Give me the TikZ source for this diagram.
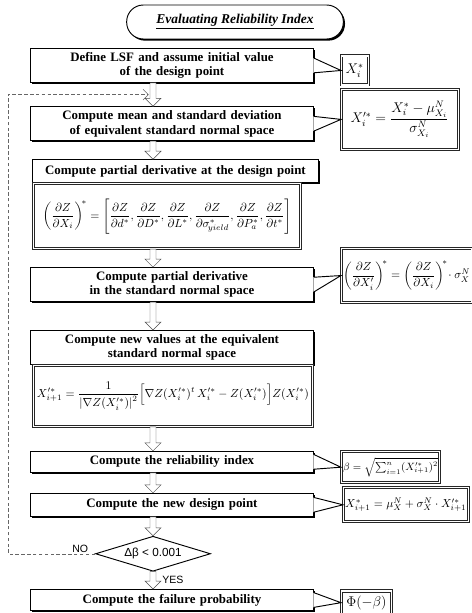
\documentclass[tikz,border=0pt]{standalone}
\usepackage{amsmath}
\usepackage{fontspec}
\setmainfont{Liberation Serif}
\newfontfamily\labelfont{Liberation Sans}
\usetikzlibrary{positioning, arrows.meta, shapes.geometric, shadows, calc}
\tikzset{
  stepbox/.style  = {rectangle, draw, thick, fill=white, align=center,
                     text width=83.5mm, minimum height=10.2mm, inner sep=2pt,
                     font=\fontsize{11}{12.5}\selectfont\bfseries,
                     drop shadow={shadow xshift=0.4mm, shadow yshift=-0.4mm,
                                  fill=black, opacity=1}},
  titlebox/.style = {rectangle, rounded corners=5mm, draw, thick, fill=white,
                     minimum width=65mm, minimum height=10.2mm,
                     font=\fontsize{11.5}{13}\selectfont\bfseries\itshape,
                     drop shadow={shadow xshift=0.5mm, shadow yshift=-0.5mm,
                                  fill=black, opacity=1}},
  formbox/.style  = {rectangle, draw=black!85, line width=0.8pt, double,
                     double distance=1pt, fill=white, inner sep=1.5pt},
  decision/.style = {diamond, draw, thick, fill=white, aspect=3.3,
                     minimum width=34.5mm, minimum height=10.5mm, inner sep=1pt,
                     font=\labelfont},
  lab/.style      = {font=\labelfont\small, inner sep=1pt},
  flowarrow/.style = {draw=black!70, thin, fill=white},
  wedgeline/.style = {draw, thick},
  loopline/.style = {draw=black!60, thin, dash pattern=on 3pt off 2pt},
}
% hollow block arrow between two points on one vertical
\newcommand{\hollowarrow}[2]{%
  \filldraw[flowarrow] ($(#1)+(-0.9mm,0)$) -- ($(#2)+(-0.9mm,2.4mm)$)
    -- ($(#2)+(-2.4mm,2.4mm)$) -- (#2) -- ($(#2)+(2.4mm,2.4mm)$)
    -- ($(#2)+(0.9mm,2.4mm)$) -- ($(#1)+(0.9mm,0)$) -- cycle;}
% callout wedge from a step box to its formula
\newcommand{\calloutwedge}[2]{%
  \fill[white] ($(#1.east)+(-0.6pt,2.2mm)$) -- (#2.west) -- ($(#1.east)+(-0.6pt,-2.2mm)$) -- cycle;
  \draw[wedgeline] ($(#1.east)+(0,2.2mm)$) -- (#2.west) -- ($(#1.east)+(0,-2.2mm)$);}
\begin{document}
\begin{tikzpicture}[node distance=6mm and 8.1mm]
\useasboundingbox (0,0) rectangle (141.3mm,-183.9mm);
\coordinate (col) at (45.9mm,0);
\coordinate (lx) at (2.4mm,0);

% Title
\node (title) [titlebox] at (70.5mm,-6.6mm) {\underline{Evaluating Reliability Index}};

% Main chain of steps
\node (b1) [stepbox, anchor=north west] at (9mm,-14.4mm) {Define LSF and assume initial value\\of the design point};
\node (b2) [stepbox, below=7mm of b1.south west, anchor=north west] {Compute mean and standard deviation\\of equivalent standard normal space};
\node (b3) [stepbox, text width=84.4mm, minimum height=6.9mm, below=5.4mm of b2.south west, anchor=north west, xshift=0.6mm] {Compute partial derivative at the design point};
\node (f3) [formbox, minimum width=80.1mm, minimum height=19.5mm, below=0pt of b3.south west, anchor=north west, xshift=0.3mm]
  {$\left(\dfrac{\partial Z}{\partial X_i}\right)^{\!*} = \left[\dfrac{\partial Z}{\partial d^{*}}, \dfrac{\partial Z}{\partial D^{*}}, \dfrac{\partial Z}{\partial L^{*}}, \dfrac{\partial Z}{\partial \sigma^{*}_{\!yield}}, \dfrac{\partial Z}{\partial P_a^{*}}, \dfrac{\partial Z}{\partial t^{*}}\right]$};
\node (b4) [stepbox, below=5.4mm of f3.south west, anchor=north west, xshift=-0.9mm] {Compute partial derivative\\in the standard normal space};
\node (b5) [stepbox, below=8.4mm of b4.south west, anchor=north west] {Compute new values at the equivalent\\standard normal space};
\node (f5) [formbox, minimum width=83.7mm, minimum height=18.3mm, below=0pt of b5.south west, anchor=north west, xshift=0.9mm]
  {$X_{i+1}'^{*} = \dfrac{1}{\left|\nabla Z(X_i'^{*})\right|^{2}}\Bigl[\nabla Z(X_i'^{*})^{t}\, X_i'^{*} - Z(X_i'^{*})\Bigr] Z(X_i'^{*})$};
\node (b6) [stepbox, minimum height=6.3mm, below=7.2mm of f5.south west, anchor=north west, xshift=-0.9mm] {Compute the reliability index};
\node (b7) [stepbox, minimum height=6.9mm, below=6mm of b6.south west, anchor=north west] {Compute the new design point};
\coordinate (d7) at (b7.south -| col);
\node (dec) [decision, below=5.7mm of d7] {Δβ < 0.001};
\coordinate (d8) at (dec.south -| b7.west);
\node (b8) [stepbox, minimum height=6.3mm, below=5.2mm of d8, anchor=north west] {Compute the failure probability};

% Formulas beside the steps
\node (f1) [formbox, right=of b1, yshift=-1.5mm, minimum width=8mm, minimum height=8.7mm] {\large $X_i^{*}$};
\node (f2) [formbox, right=of b2, yshift=1.3mm, minimum width=35mm, minimum height=18mm] {\large $X_i'^{*} = \dfrac{X_i^{*} - \mu_{X_i}^{N}}{\sigma_{X_i}^{N}}$};
\node (f4) [formbox, right=of b4, yshift=2.7mm, minimum width=39mm, minimum height=16mm] {$\left(\dfrac{\partial Z}{\partial X_i'}\right)^{\!*} = \left(\dfrac{\partial Z}{\partial X_i}\right)^{\!*}\!\cdot \sigma_X^N$};
\node (f6) [formbox, right=of b6, yshift=-1.6mm, minimum width=22.5mm, minimum height=9.3mm] {\small $\beta = \sqrt{\textstyle\sum_{i=1}^{n}(X_{i+1}'^{*})^{2}}$};
\node (f7) [formbox, right=8.7mm of b7, minimum width=34mm, minimum height=10.2mm] {$X_{i+1}^{*} = \mu_X^N + \sigma_X^N \cdot X_{i+1}'^{*}$};
\node (f8) [formbox, right=of b8, yshift=-0.8mm, minimum width=15mm, minimum height=7mm] {\large $\Phi(-\beta)$};

% Callouts
\calloutwedge{b1}{f1}
\calloutwedge{b2}{f2}
\calloutwedge{b4}{f4}
\calloutwedge{b6}{f6}
\calloutwedge{b7}{f7}
\calloutwedge{b8}{f8}

% Flow arrows
\hollowarrow{b1.south -| col}{b2.north -| col}
\hollowarrow{b2.south -| col}{b3.north -| col}
\hollowarrow{f3.south -| col}{b4.north -| col}
\hollowarrow{b4.south -| col}{b5.north -| col}
\hollowarrow{f5.south -| col}{b6.north -| col}
\hollowarrow{b6.south -| col}{b7.north -| col}
\hollowarrow{b7.south -| col}{dec.north}
\hollowarrow{dec.south}{b8.north -| col}
\node (yes) [lab, anchor=west] at ($(dec.south)!0.45!(b8.north -| col)+(2.4mm,0)$) {YES};

% Loop back when not converged
\coordinate (entry) at ($(b1.south -| col)!0.5!(b2.north -| col)+(-1.3mm,0)$);
\draw[loopline, -{Straight Barb[length=1.6mm]}] (dec.west) -- node (no) [lab, above, pos=0.17] {NO} (dec.west -| lx) |- (entry);
\end{tikzpicture}
\end{document}
